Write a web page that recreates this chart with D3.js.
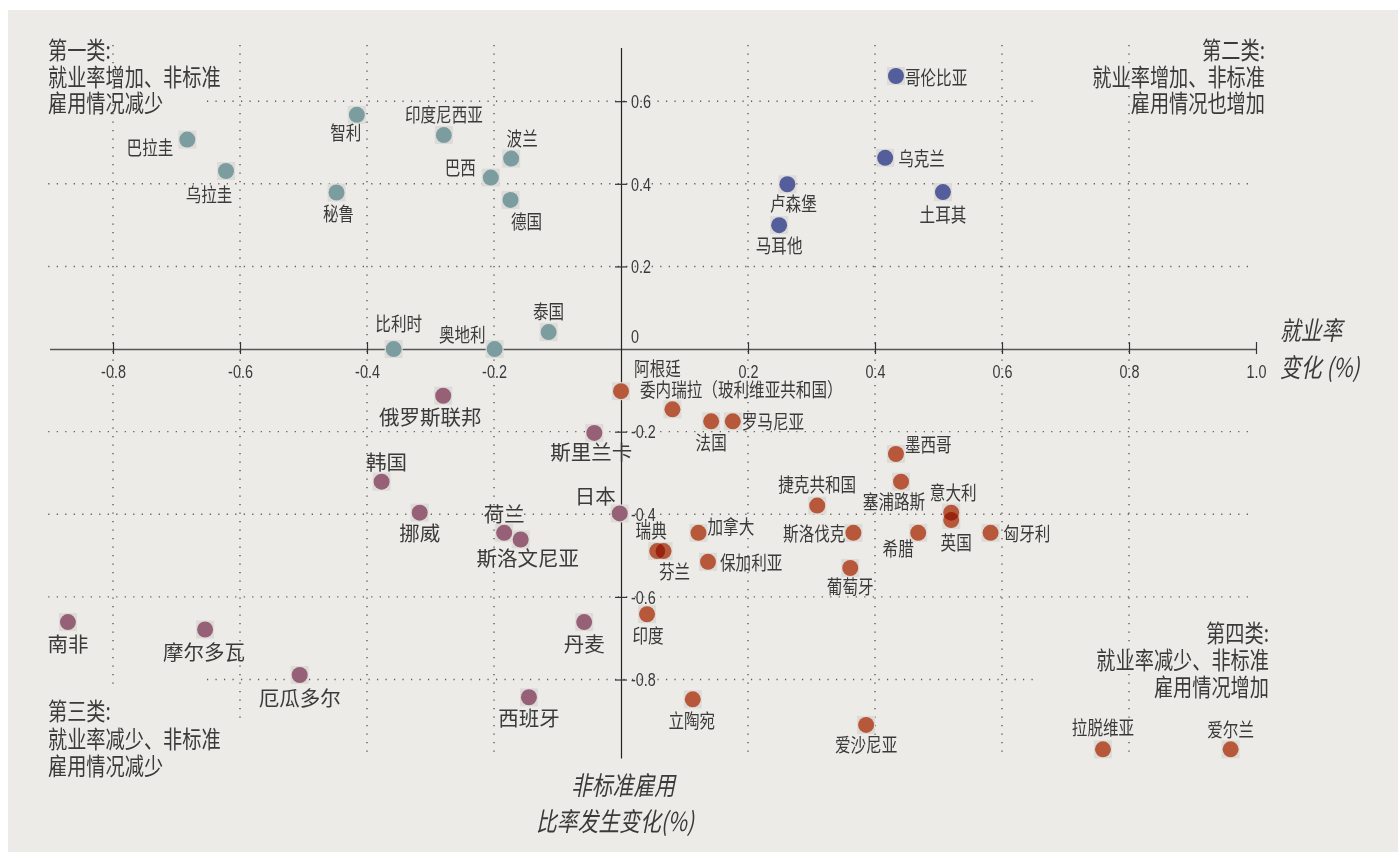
<!DOCTYPE html>
<html>
<head>
<meta charset="utf-8">
<script src="https://cdn.jsdelivr.net/npm/d3@7"></script>
<style>
  body { margin: 0; background: #fff; }
  svg { display: block; }
  .num { font-family: "Liberation Sans Narrow", "Liberation Sans", sans-serif; fill: #3a3a3a; }
  .cjk { font-family: "Noto Sans CJK SC", sans-serif; fill: #3a3a3a; }
</style>
</head>
<body>
<svg id="chart"></svg>
<script>
// data
const countries = [
  "智利", "巴拉圭", "乌拉圭", "秘鲁", "印度尼西亚", "波兰", "巴西", "德国", "泰国", "比利时", "奥地利",
  "哥伦比亚", "乌克兰", "卢森堡", "土耳其", "马耳他",
  "俄罗斯联邦", "斯里兰卡", "韩国", "挪威", "荷兰", "斯洛文尼亚", "日本", "南非", "摩尔多瓦", "厄瓜多尔", "丹麦", "西班牙",
  "委内瑞拉（玻利维亚共和国）", "阿根廷", "法国", "罗马尼亚", "墨西哥", "塞浦路斯", "捷克共和国", "意大利", "英国", "匈牙利",
  "希腊", "斯洛伐克", "加拿大", "瑞典", "芬兰", "保加利亚", "葡萄牙", "印度", "立陶宛", "爱沙尼亚", "拉脱维亚", "爱尔兰"
];
const nonStdChange = [
  -0.416, -0.683, -0.622, -0.448, -0.279, -0.173, -0.205, -0.174, -0.114, -0.358, -0.199,
  0.433, 0.416, 0.262, 0.507, 0.249,
  -0.280, -0.042, -0.377, -0.317, -0.184, -0.158, -0.002, -0.871, -0.655, -0.506, -0.058, -0.145,
  0.0, 0.081, 0.142, 0.176, 0.433, 0.441, 0.309, 0.520, 0.520, 0.582,
  0.468, 0.366, 0.122, 0.057, 0.067, 0.137, 0.361, 0.041, 0.113, 0.386, 0.759, 0.960
];
const employmentChange = [
  0.567, 0.507, 0.431, 0.379, 0.518, 0.461, 0.415, 0.361, 0.041, 0.0, 0.0,
  0.661, 0.463, 0.399, 0.380, 0.300,
  -0.113, -0.203, -0.321, -0.396, -0.445, -0.461, -0.398, -0.661, -0.679, -0.789, -0.661, -0.843,
  -0.102, -0.146, -0.175, -0.175, -0.254, -0.321, -0.379, -0.396, -0.414, -0.445,
  -0.445, -0.445, -0.445, -0.489, -0.489, -0.515, -0.530, -0.642, -0.848, -0.910, -0.969, -0.969
];
const quadrant = [
  1, 1, 1, 1, 1, 1, 1, 1, 1, 1, 1,
  2, 2, 2, 2, 2,
  3, 3, 3, 3, 3, 3, 3, 3, 3, 3, 3, 3,
  4, 4, 4, 4, 4, 4, 4, 4, 4, 4, 4, 4, 4, 4, 4, 4, 4, 4, 4, 4, 4, 4
];
const xTicks = [-0.8, -0.6, -0.4, -0.2, 0.2, 0.4, 0.6, 0.8, 1.0];
const yTicks = [0.6, 0.4, 0.2, 0, -0.2, -0.4, -0.6, -0.8];
const quadrantTitles = [
  ["第一类:", "就业率增加、非标准", "雇用情况减少"],
  ["第二类:", "就业率增加、非标准", "雇用情况也增加"],
  ["第三类:", "就业率减少、非标准", "雇用情况减少"],
  ["第四类:", "就业率减少、非标准", "雇用情况增加"]
];
const xTitle = ["就业率", "变化 (%)"];
const yTitle = ["非标准雇用", "比率发生变化(%)"];

// layout
const W = 1398, H = 852;
const colors = { 1: "#7b9d9f", 2: "#525e9b", 3: "#966177", 4: "#b8583a" };
const haloColor = "#dddbd7";

// label placement: [anchor, dx, dy]
const labelPos = {
  "智利": ["middle", -11, 17], "巴拉圭": ["end", -14, 7], "乌拉圭": ["middle", -17, 23], "秘鲁": ["middle", 2, 20],
  "印度尼西亚": ["middle", 0, -21], "波兰": ["middle", 11, -21], "巴西": ["end", -15, -11], "德国": ["middle", 16, 21],
  "泰国": ["middle", 0, -21], "比利时": ["middle", 5, -26], "奥地利": ["end", -9, -15],
  "哥伦比亚": ["start", 9, 1], "乌克兰": ["start", 13, 0], "卢森堡": ["middle", 6, 18], "土耳其": ["middle", 0, 22], "马耳他": ["middle", 0, 20],
  "俄罗斯联邦": ["middle", -13, 20], "斯里兰卡": ["middle", -3, 18], "韩国": ["middle", 5, -21], "挪威": ["middle", 0, 19],
  "荷兰": ["middle", 0, -20], "斯洛文尼亚": ["middle", 7, 18], "日本": ["end", -4, -18], "南非": ["middle", 0, 21],
  "摩尔多瓦": ["middle", -1, 21], "厄瓜多尔": ["middle", 0, 22], "丹麦": ["middle", 0, 21], "西班牙": ["middle", 0, 20],
  "委内瑞拉（玻利维亚共和国）": ["start", 19, -2], "阿根廷": ["middle", -15, -42], "法国": ["middle", 0, 20], "罗马尼亚": ["start", 9, -1],
  "墨西哥": ["start", 9, -10], "塞浦路斯": ["middle", -7, 19], "捷克共和国": ["middle", 0, -22], "意大利": ["middle", 2, -21],
  "英国": ["middle", 5, 22], "匈牙利": ["start", 13, 0], "希腊": ["middle", -20, 15], "斯洛伐克": ["end", -8, 0],
  "加拿大": ["start", 9, -7], "瑞典": ["middle", -6, -21], "芬兰": ["middle", 11, 20], "保加利亚": ["start", 12, 0],
  "葡萄牙": ["middle", 0, 18], "印度": ["middle", 1, 20], "立陶宛": ["middle", -1, 20], "爱沙尼亚": ["middle", 0, 19],
  "拉脱维亚": ["middle", 0, -23], "爱尔兰": ["middle", 0, -21]
};

const svg = d3.select("#chart").attr("width", W).attr("height", H);

svg.append("rect")
  .attr("x", 8).attr("y", 10)
  .attr("width", W - 8).attr("height", H - 10)
  .attr("fill", "#ecebe7");

const x = d3.scaleLinear().domain([-0.9, 1.0]).range([49.5, 1256]);
const y = d3.scaleLinear().domain([-0.99, 0.73]).range([758, 47.5]);

// grid (dotted, partial lengths like the original)
const hGridSpan = v => (v === 0.6 || v === -0.8) ? [-0.652, 0.652] : [-0.902, 0.997];
const vGridSpan = v => v === -0.8 ? [-0.821, 0.736] : v === -0.6 ? [-0.906, 0.736] : [-0.976, 0.736];

const grid = svg.append("g")
  .attr("stroke", "#5a5a5a")
  .attr("stroke-width", 1.4)
  .attr("stroke-dasharray", "1.2 7.3");

grid.selectAll(".hg")
  .data(yTicks.filter(d => d !== 0))
  .enter().append("line")
  .attr("x1", d => x(hGridSpan(d)[0]))
  .attr("x2", d => x(hGridSpan(d)[1]))
  .attr("y1", d => y(d)).attr("y2", d => y(d));

grid.selectAll(".vg")
  .data(xTicks.filter(d => d !== 1.0))
  .enter().append("line")
  .attr("x1", d => x(d)).attr("x2", d => x(d))
  .attr("y1", d => y(vGridSpan(d)[1]))
  .attr("y2", d => y(vGridSpan(d)[0]));

const numFmt = d => d === 0 ? "0" : d === 1 ? "1.0" : d3.format(".1f")(d).replace("−", "-");
const numScale = 0.8;

// x axis
const xAxis = svg.append("g")
  .attr("transform", `translate(0,${y(0)})`)
  .call(d3.axisBottom(x).tickValues(xTicks).tickSizeOuter(0).tickFormat(numFmt));
xAxis.select(".domain").attr("stroke", "#555").attr("stroke-width", 1.6);
xAxis.selectAll(".tick line").attr("y1", -7).attr("y2", 5).attr("stroke", "#333").attr("stroke-width", 1.2);
xAxis.selectAll(".tick text")
  .attr("class", "num").attr("y", 16).attr("dy", "0.71em")
  .attr("transform", `scale(${numScale},1)`)
  .style("font-size", "18px").attr("fill", "#3a3a3a");

// y axis
const yAxis = svg.append("g")
  .attr("transform", `translate(${x(0)},0)`)
  .call(d3.axisRight(y).tickValues(yTicks).tickSizeOuter(0).tickFormat(numFmt));
yAxis.select(".domain").attr("stroke", "#222").attr("stroke-width", 1.2);
yAxis.selectAll(".tick line")
  .attr("x1", -6).attr("x2", 6)
  .attr("stroke", "#333").attr("stroke-width", 1.2)
  .style("display", d => d === 0 ? "none" : null);
yAxis.selectAll(".tick text")
  .attr("class", "num").attr("x", 10 / numScale)
  .attr("transform", `scale(${numScale},1)`)
  .attr("dy", d => d === 0 ? "-0.35em" : "0.35em")
  .style("font-size", "18px").attr("fill", "#3a3a3a");

// helper for condensed cjk text
function cjkText(g, str, px, py, size, sx, anchor, italic) {
  return g.append("text")
    .attr("class", "cjk")
    .attr("transform", `translate(${px},${py}) scale(${sx},1)`)
    .attr("text-anchor", anchor)
    .attr("dominant-baseline", "central")
    .style("font-size", size + "px")
    .style("font-style", italic ? "italic" : "normal")
    .text(str);
}

// points
const points = countries.map((c, i) => ({
  name: c, x: nonStdChange[i], y: employmentChange[i], q: quadrant[i]
}));

const blendColor = hex => {
  const c = d3.rgb(hex), h = d3.rgb(haloColor);
  return d3.rgb(
    Math.min(255, c.r / h.r * 255),
    Math.min(255, c.g / h.g * 255),
    Math.min(255, c.b / h.b * 255)).formatHex();
};

svg.append("g").selectAll("rect")
  .data(points)
  .enter().append("rect")
  .attr("x", d => x(d.x) - 9)
  .attr("y", d => y(d.y) - 9)
  .attr("width", 18).attr("height", 18)
  .attr("fill", haloColor);

svg.append("g").selectAll("circle")
  .data(points)
  .enter().append("circle")
  .attr("cx", d => x(d.x))
  .attr("cy", d => y(d.y))
  .attr("r", 8)
  .attr("fill", d => blendColor(colors[d.q]))
  .style("mix-blend-mode", "multiply");

// point labels
const labels = svg.append("g");
points.forEach(d => {
  const p = labelPos[d.name];
  const big = d.q === 3;
  cjkText(labels, d.name, x(d.x) + p[1], y(d.y) + p[2], big ? 20.5 : 19.5, big ? 1 : 0.8, p[0], false);
});

// quadrant titles
const qt = svg.append("g");
quadrantTitles[0].forEach((t, i) => cjkText(qt, t, 48, 49 + i * 26.5, 24, 0.8, "start"));
quadrantTitles[1].forEach((t, i) => cjkText(qt, t, 1265, 49 + i * 26.5, 24, 0.8, "end"));
quadrantTitles[2].forEach((t, i) => cjkText(qt, t, 48, 710 + i * 27.5, 24, 0.8, "start"));
quadrantTitles[3].forEach((t, i) => cjkText(qt, t, 1269, 632 + i * 27, 24, 0.8, "end"));

// axis titles
xTitle.forEach((t, i) => cjkText(qt, t, 1280, 329 + i * 37, 26, 0.8, "start", true));
yTitle.forEach((t, i) => cjkText(qt, t, i === 0 ? 623 : 615, 784 + i * 36, 26, 0.8, "middle", true));
</script>
</body>
</html>
